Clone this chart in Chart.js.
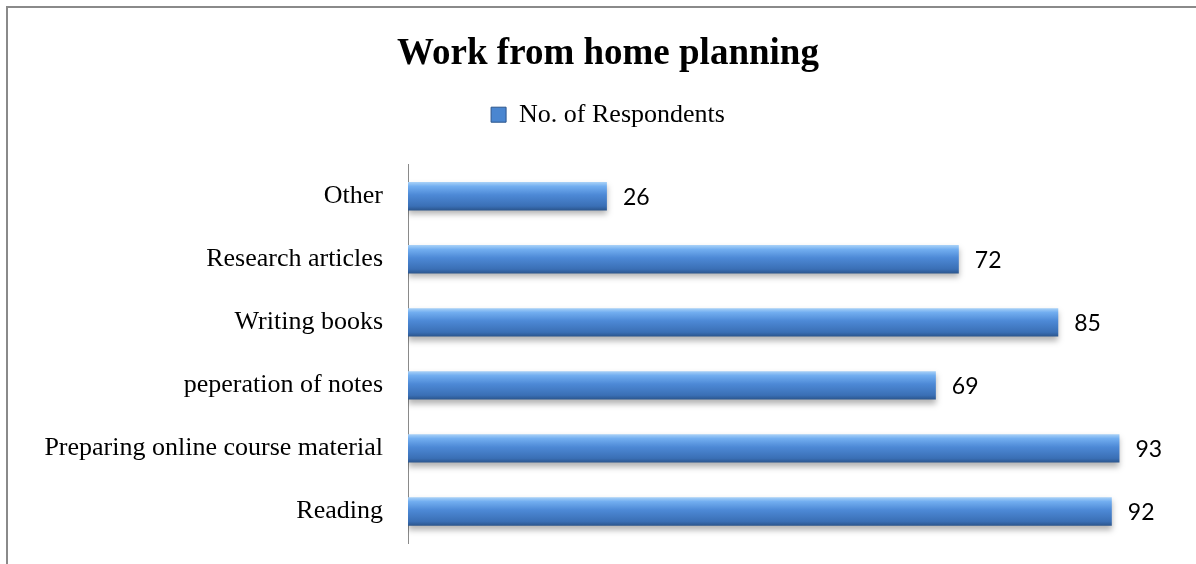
<!DOCTYPE html>
<html>
<head>
<meta charset="utf-8">
<script src="https://cdn.jsdelivr.net/npm/chart.js@4"></script>
<style>
  html, body { margin: 0; padding: 0; background: #fff; overflow: hidden; }
  #wrap { position: relative; width: 1196px; height: 564px; }
  #frame { position: absolute; left: 6px; top: 6px; width: 1400px; height: 800px;
           border-left: 2px solid #8a8a8a; border-top: 2px solid #8a8a8a; }
  canvas { position: absolute; left: 0; top: 0; }
</style>
</head>
<body>
<div id="wrap">
  <div id="frame"></div>
  <canvas id="myChart" width="1196" height="564"></canvas>
</div>
<script>
var categories = ['Other', 'Research articles', 'Writing books', 'peperation of notes',
                  'Preparing online course material', 'Reading'];
var respondents = [26, 72, 85, 69, 93, 92];
var seriesName = 'No. of Respondents';

var serif = "'Liberation Serif', 'Times New Roman', serif";
var sans = "Lato, 'Open Sans', sans-serif";

// glossy blue fill, shaded top to bottom across each bar
function barFill(c) {
  var chart = c.chart;
  var y = chart.scales.y;
  if (c.type !== 'data' || !y || !chart.chartArea) return '#4a86d0';
  var mid = y.getPixelForValue(c.dataIndex);
  var half = y.height / categories.length * 0.45 / 2;
  var g = chart.ctx.createLinearGradient(0, mid - half, 0, mid + half);
  g.addColorStop(0, '#a9d2f8');
  g.addColorStop(0.15, '#72aef0');
  g.addColorStop(0.45, '#4d89d6');
  g.addColorStop(0.85, '#3a6fb5');
  g.addColorStop(1, '#2b558c');
  return g;
}

var shadowPlugin = {
  id: 'shadow',
  beforeDatasetDraw: function(chart) {
    var ctx = chart.ctx;
    ctx.save();
    ctx.shadowColor = 'rgba(0,0,0,0.3)';
    ctx.shadowBlur = 6;
    ctx.shadowOffsetY = 4;
  },
  afterDatasetDraw: function(chart) {
    chart.ctx.restore();
  }
};

var valueLabels = {
  id: 'valueLabels',
  afterDatasetsDraw: function(chart) {
    var ctx = chart.ctx;
    var meta = chart.getDatasetMeta(0);
    ctx.save();
    ctx.font = '23px ' + sans;
    ctx.fillStyle = '#000';
    ctx.textAlign = 'left';
    ctx.textBaseline = 'middle';
    meta.data.forEach(function(bar, i) {
      ctx.fillText(respondents[i], bar.x + 16, bar.y + 1);
    });
    ctx.restore();
  }
};

// extra room under the legend
var legendGap = {
  id: 'legendGap',
  beforeInit: function(chart) {
    var fit = chart.legend.fit;
    chart.legend.fit = function() {
      fit.call(this);
      this.height += 27;
    };
  }
};

var ctx = document.getElementById('myChart').getContext('2d');
var myChart = new Chart(ctx, {
  type: 'bar',
  data: {
    labels: categories,
    datasets: [{
      label: seriesName,
      data: respondents,
      backgroundColor: barFill,
      borderWidth: 0,
      categoryPercentage: 1,
      barPercentage: 0.45
    }]
  },
  options: {
    indexAxis: 'y',
    responsive: false,
    animation: false,
    layout: { padding: { left: 43, right: 23, top: 0, bottom: 21 } },
    plugins: {
      title: {
        display: true,
        text: 'Work from home planning',
        color: '#000',
        font: { family: serif, size: 37, weight: 'bold', lineHeight: 1.1 },
        padding: { top: 34, bottom: 17 }
      },
      legend: {
        display: true,
        labels: {
          color: '#000',
          font: { family: serif, size: 26 },
          boxWidth: 15,
          boxHeight: 15,
          padding: 10,
          generateLabels: function(chart) {
            var items = Chart.defaults.plugins.legend.labels.generateLabels(chart);
            items.forEach(function(it) {
              it.fillStyle = '#4a86d0';
              it.strokeStyle = '#2b558c';
              it.lineWidth = 1;
            });
            return items;
          }
        }
      },
      tooltip: { enabled: false }
    },
    scales: {
      x: {
        display: false,
        min: 0,
        max: 100
      },
      y: {
        afterFit: function(scale) {
          scale.width = 365;
          scale.paddingTop = 0;
          scale.paddingBottom = 0;
        },
        grid: { display: false },
        border: { display: true, color: '#8a8a8a', width: 1 },
        ticks: {
          color: '#000',
          padding: 17,
          font: { family: serif, size: 26 }
        }
      }
    }
  },
  plugins: [shadowPlugin, valueLabels, legendGap]
});
</script>
</body>
</html>
